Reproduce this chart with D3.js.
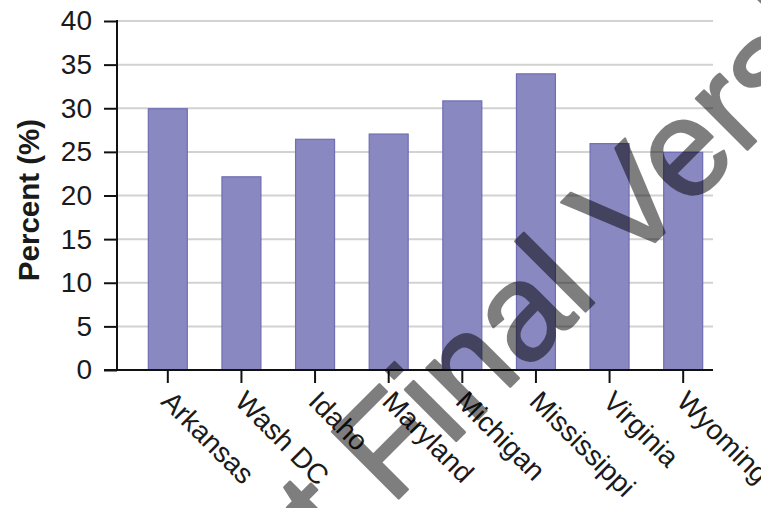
<!DOCTYPE html>
<html>
<head>
<meta charset="utf-8">
<script src="https://cdn.jsdelivr.net/npm/d3@7"></script>
<style>
  html, body { margin: 0; padding: 0; background: #fff; }
  svg { display: block; }
  text { font-family: "Liberation Sans", Arial, sans-serif; }
</style>
</head>
<body>
<svg id="chart" width="761" height="508"></svg>
<script>
const categories = ["Arkansas", "Wash DC", "Idaho", "Maryland", "Michigan", "Mississippi", "Virginia", "Wyoming"];
const values = [30.0, 22.2, 26.5, 27.1, 30.9, 34.0, 26.0, 25.0];
const yTicks = [0, 5, 10, 15, 20, 25, 30, 35, 40];
const yLabel = "Percent (%)";
const watermark = "Not Final Version";

const svg = d3.select("#chart");

const axisLeftX = 117, axisRightX = 713;
const y = d3.scaleLinear().domain([0, 40]).range([370, 21]);
const x = d3.scaleBand().domain(categories).range([131, 720])
  .paddingInner(0.457).paddingOuter(0.2285);

// gridlines
svg.append("g").selectAll("line").data(yTicks.filter(d => d > 0)).join("line")
  .attr("x1", axisLeftX).attr("x2", axisRightX)
  .attr("y1", d => y(d)).attr("y2", d => y(d))
  .attr("stroke", "#d2d2d2").attr("stroke-width", 2);

// bars
svg.append("g").selectAll("rect").data(values).join("rect")
  .attr("x", (d, i) => x(categories[i]) + 0.5)
  .attr("width", x.bandwidth() - 1)
  .attr("y", d => y(d) + 0.5)
  .attr("height", d => y(0) - y(d) - 0.5)
  .attr("fill", "#8a88c1")
  .attr("stroke", "#6f6db4")
  .attr("stroke-width", 1.2);

// y axis
const yAxis = d3.axisLeft(y).tickValues(yTicks).tickSize(13).tickPadding(12);
const gy = svg.append("g").attr("transform", `translate(${axisLeftX},0)`).call(yAxis);
gy.select(".domain").remove();
gy.selectAll(".tick line").attr("stroke", "#111").attr("stroke-width", 2);
gy.selectAll(".tick text").attr("font-size", 28).attr("fill", "#1a1a1a")
  .attr("font-family", "'Liberation Sans', Arial, sans-serif");
svg.append("line").attr("x1", axisLeftX).attr("x2", axisLeftX)
  .attr("y1", y(40) - 1).attr("y2", y(0) + 1)
  .attr("stroke", "#111").attr("stroke-width", 2);

// x axis
svg.append("line").attr("x1", 104).attr("x2", axisRightX)
  .attr("y1", y(0)).attr("y2", y(0))
  .attr("stroke", "#111").attr("stroke-width", 2);
const gx = svg.append("g");
gx.selectAll("line").data(categories).join("line")
  .attr("x1", d => x(d) + x.bandwidth() / 2).attr("x2", d => x(d) + x.bandwidth() / 2)
  .attr("y1", y(0)).attr("y2", y(0) + 13)
  .attr("stroke", "#111").attr("stroke-width", 2);
gx.selectAll("text").data(categories).join("text")
  .attr("transform", d => `translate(${x(d) + x.bandwidth() / 2 - 8},${y(0) + 33}) rotate(45)`)
  .attr("text-anchor", "start")
  .attr("font-size", 28)
  .attr("fill", "#1a1a1a")
  .text(d => d);

// y label
svg.append("text")
  .attr("transform", "translate(39,200) rotate(-90)")
  .attr("text-anchor", "middle")
  .attr("font-size", 29.5)
  .attr("font-weight", "bold")
  .attr("fill", "#1a1a1a")
  .text(yLabel);

// watermark
svg.append("g").attr("opacity", 0.5)
  .append("text")
  .attr("transform", "translate(213,684) rotate(-45)")
  .attr("font-size", 137)
  .attr("fill", "#000")
  .attr("stroke", "#000")
  .attr("stroke-width", 2.5)
  .attr("stroke-linejoin", "round")
  .text(watermark);
</script>
</body>
</html>
